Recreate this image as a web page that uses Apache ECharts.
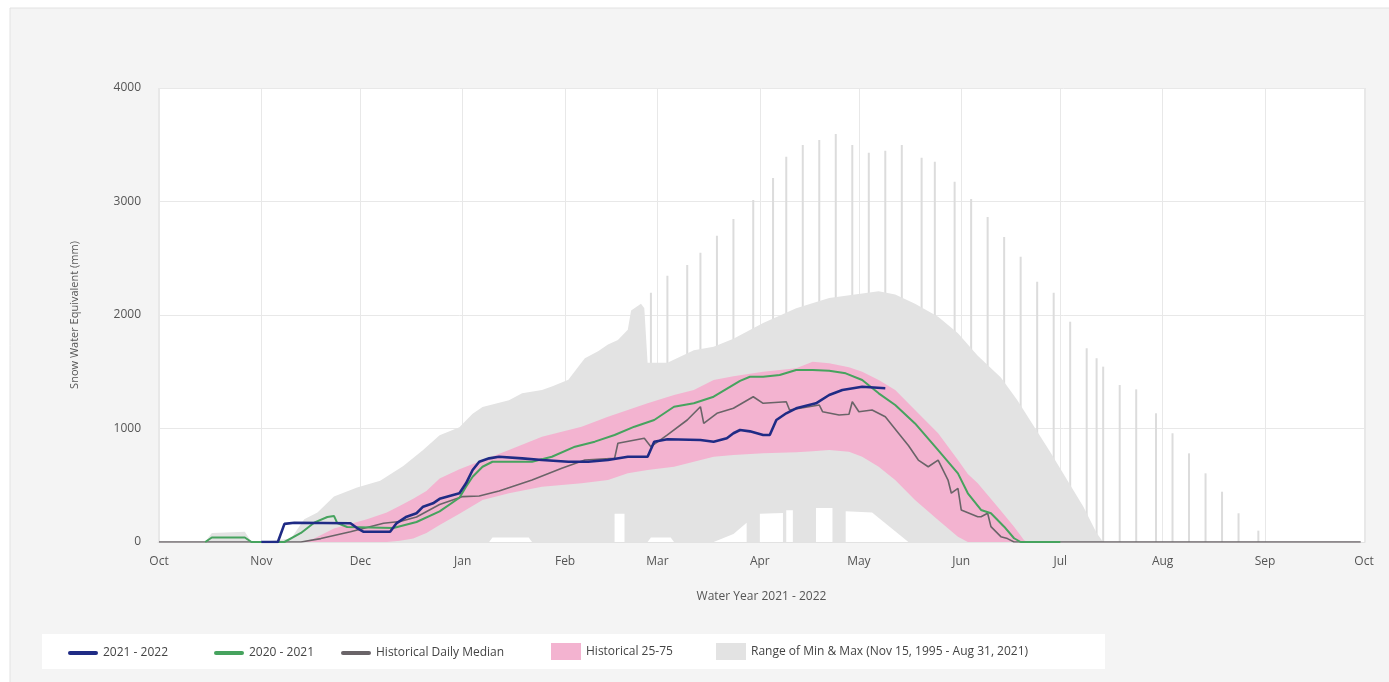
<!DOCTYPE html>
<html>
<head>
<meta charset="utf-8">
<title>Snow Water Equivalent</title>
<script src="https://cdn.jsdelivr.net/npm/echarts@6/dist/echarts.min.js"></script>
<style>
  html, body { margin: 0; padding: 0; background: #fff; }
  #chart { width: 1389px; height: 682px; }
</style>
</head>
<body>
<div id="chart"></div>
<script>
// month names used for the time axis labels
const monthNames = ['Jan', 'Feb', 'Mar', 'Apr', 'May', 'Jun', 'Jul', 'Aug', 'Sep', 'Oct', 'Nov', 'Dec'];
const yTicks = [0, 1000, 2000, 3000, 4000];

const RANGE_NAME = 'Range of Min & Max (Nov 15, 1995 - Aug 31, 2021)';

// upper envelope of historical range (mm)
const maxRange = [
  ['2021-10-01', 0], ['2021-10-15', 0], ['2021-10-17', 80], ['2021-10-27', 90], ['2021-10-29', 0],
  ['2021-11-01', 0], ['2021-11-10', 30], ['2021-11-14', 200], ['2021-11-18', 260], ['2021-11-23', 400],
  ['2021-11-30', 480], ['2021-12-07', 540], ['2021-12-14', 670], ['2021-12-20', 810], ['2021-12-25', 940],
  ['2021-12-31', 1010], ['2022-01-04', 1130], ['2022-01-07', 1190], ['2022-01-15', 1250], ['2022-01-19', 1310],
  ['2022-01-25', 1340], ['2022-01-28', 1370], ['2022-02-02', 1430], ['2022-02-05', 1545], ['2022-02-07', 1620],
  ['2022-02-11', 1680], ['2022-02-14', 1740], ['2022-02-17', 1780], ['2022-02-20', 1870], ['2022-02-21', 2040],
  ['2022-02-24', 2100], ['2022-02-25', 2060], ['2022-02-26', 1580], ['2022-03-04', 1580], ['2022-03-12', 1690],
  ['2022-03-18', 1720], ['2022-03-24', 1790], ['2022-04-02', 1930], ['2022-04-12', 2060], ['2022-04-22', 2150],
  ['2022-05-02', 2190], ['2022-05-07', 2210], ['2022-05-12', 2180], ['2022-05-18', 2100], ['2022-05-25', 1985],
  ['2022-05-31', 1840], ['2022-06-06', 1640], ['2022-06-13', 1450], ['2022-06-18', 1250], ['2022-06-23', 1020],
  ['2022-06-28', 790], ['2022-07-03', 550], ['2022-07-08', 310], ['2022-07-12', 80], ['2022-07-14', 0],
  ['2022-09-30', 0]
];

// lower envelope of historical range (mm)
const minRange = [
  ['2021-10-01', 0], ['2022-01-09', 0], ['2022-01-10', 40], ['2022-01-21', 40], ['2022-01-22', 0],
  ['2022-02-16', 0], ['2022-02-16', 250], ['2022-02-19', 250], ['2022-02-19', 0],
  ['2022-02-26', 0], ['2022-02-27', 40], ['2022-03-05', 40], ['2022-03-06', 0],
  ['2022-03-18', 0], ['2022-03-24', 70], ['2022-03-28', 170], ['2022-03-28', 0],
  ['2022-04-01', 0], ['2022-04-01', 250], ['2022-04-08', 255], ['2022-04-08', 0],
  ['2022-04-09', 0], ['2022-04-09', 280], ['2022-04-11', 280], ['2022-04-11', 0],
  ['2022-04-18', 0], ['2022-04-18', 300], ['2022-04-23', 300], ['2022-04-23', 0],
  ['2022-04-27', 0], ['2022-04-27', 270], ['2022-05-05', 260], ['2022-05-16', 0], ['2022-09-30', 0]
];

// single-day maxima sticking out of the range
const spikeDates = [
  '2022-02-27', '2022-03-04', '2022-03-10', '2022-03-14', '2022-03-19', '2022-03-24', '2022-03-30',
  '2022-04-05', '2022-04-09', '2022-04-14', '2022-04-19', '2022-04-24', '2022-04-29', '2022-05-04',
  '2022-05-09', '2022-05-14', '2022-05-20', '2022-05-24', '2022-05-30', '2022-06-04', '2022-06-09',
  '2022-06-14', '2022-06-19', '2022-06-24', '2022-06-29', '2022-07-04', '2022-07-09', '2022-07-12',
  '2022-07-14', '2022-07-19', '2022-07-24', '2022-07-30', '2022-08-04', '2022-08-09', '2022-08-14',
  '2022-08-19', '2022-08-24', '2022-08-30'
];
const spikeValues = [
  2196, 2346, 2441, 2549, 2699, 2846, 3013,
  3207, 3395, 3498, 3542, 3595, 3498, 3430,
  3447, 3498, 3386, 3351, 3174, 3022, 2863,
  2687, 2514, 2293, 2196, 1941, 1707, 1619,
  1545, 1383, 1345, 1134, 958, 781, 605,
  443, 253, 100
];

// historical 25th / 75th percentile
const pinkDates = [
  '2021-11-13', '2021-11-17', '2021-11-23', '2021-12-03', '2021-12-09', '2021-12-13', '2021-12-17',
  '2021-12-21', '2021-12-25', '2021-12-31', '2022-01-07', '2022-01-15', '2022-01-25', '2022-01-31',
  '2022-02-06', '2022-02-14', '2022-02-20', '2022-02-26', '2022-03-06', '2022-03-12', '2022-03-18',
  '2022-03-24', '2022-04-02', '2022-04-12', '2022-04-17', '2022-04-22', '2022-04-28', '2022-05-02',
  '2022-05-07', '2022-05-12', '2022-05-18', '2022-05-25', '2022-05-31', '2022-06-03', '2022-06-06',
  '2022-06-12', '2022-06-17', '2022-06-20', '2022-06-21'
];
const p25 = [
  0, 0, 0, 0, 0, 10, 30,
  80, 150, 250, 370, 430, 487, 502,
  517, 546, 605, 634, 663, 707, 752,
  767, 781, 790, 800, 810, 796, 752,
  663, 546, 370, 194, 47, 0, 0,
  0, 0, 0, 0
];
const p75 = [
  0, 30, 120, 200, 260, 320, 380,
  450, 560, 640, 720, 810, 928, 972,
  1016, 1104, 1163, 1222, 1295, 1339, 1427,
  1460, 1500, 1530, 1589, 1574, 1540, 1500,
  1427, 1339, 1163, 958, 722, 600, 517,
  311, 135, 18, 0
];

const median = [
  ['2021-10-01', 0], ['2021-11-13', 0], ['2021-11-19', 30], ['2021-11-28', 90], ['2021-12-08', 165],
  ['2021-12-13', 180], ['2021-12-18', 220], ['2021-12-25', 330], ['2022-01-01', 400], ['2022-01-06', 405],
  ['2022-01-12', 450], ['2022-01-22', 546], ['2022-01-31', 649], ['2022-02-07', 722], ['2022-02-16', 737],
  ['2022-02-17', 870], ['2022-02-25', 914], ['2022-02-27', 840], ['2022-03-04', 943], ['2022-03-10', 1075],
  ['2022-03-14', 1192], ['2022-03-15', 1045], ['2022-03-19', 1134], ['2022-03-24', 1178], ['2022-03-30', 1280],
  ['2022-04-02', 1222], ['2022-04-09', 1236], ['2022-04-10', 1163], ['2022-04-19', 1207], ['2022-04-20', 1148],
  ['2022-04-25', 1119], ['2022-04-28', 1125], ['2022-04-29', 1236], ['2022-05-01', 1148], ['2022-05-05', 1163],
  ['2022-05-09', 1104], ['2022-05-13', 958], ['2022-05-16', 850], ['2022-05-19', 722], ['2022-05-22', 663],
  ['2022-05-25', 722], ['2022-05-28', 546], ['2022-05-29', 430], ['2022-05-31', 473], ['2022-06-01', 282],
  ['2022-06-06', 223], ['2022-06-07', 223], ['2022-06-09', 253], ['2022-06-10', 135], ['2022-06-13', 47],
  ['2022-06-15', 30], ['2022-06-17', 0], ['2022-09-30', 0]
];

const season2021 = [
  ['2021-10-15', 0], ['2021-10-17', 40], ['2021-10-27', 40], ['2021-10-29', 0], ['2021-11-08', 0],
  ['2021-11-13', 80], ['2021-11-17', 170], ['2021-11-21', 220], ['2021-11-23', 230], ['2021-11-24', 167],
  ['2021-11-27', 132], ['2021-12-11', 123], ['2021-12-18', 176], ['2021-12-25', 270], ['2021-12-31', 390],
  ['2022-01-02', 487], ['2022-01-04', 575], ['2022-01-07', 663], ['2022-01-10', 707], ['2022-01-22', 707],
  ['2022-01-28', 751], ['2022-02-04', 840], ['2022-02-10', 884], ['2022-02-16', 943], ['2022-02-22', 1016],
  ['2022-02-28', 1075], ['2022-03-06', 1192], ['2022-03-12', 1222], ['2022-03-18', 1280], ['2022-03-26', 1420],
  ['2022-03-29', 1456], ['2022-04-02', 1456], ['2022-04-07', 1471], ['2022-04-12', 1515], ['2022-04-17', 1515],
  ['2022-04-22', 1509], ['2022-04-27', 1486], ['2022-05-02', 1427], ['2022-05-07', 1310], ['2022-05-12', 1207],
  ['2022-05-18', 1045], ['2022-05-25', 810], ['2022-05-31', 605], ['2022-06-03', 429], ['2022-06-07', 282],
  ['2022-06-10', 253], ['2022-06-14', 135], ['2022-06-17', 33], ['2022-06-19', 0], ['2022-07-01', 0]
];

const season2022 = [
  ['2021-11-01', 0], ['2021-11-06', 0], ['2021-11-08', 160], ['2021-11-11', 170], ['2021-11-28', 165],
  ['2021-11-30', 123], ['2021-12-02', 90], ['2021-12-10', 90], ['2021-12-12', 167], ['2021-12-15', 223],
  ['2021-12-18', 253], ['2021-12-20', 311], ['2021-12-23', 341], ['2021-12-25', 380], ['2021-12-31', 429],
  ['2022-01-02', 517], ['2022-01-04', 634], ['2022-01-06', 707], ['2022-01-09', 737], ['2022-01-12', 751],
  ['2022-01-19', 737], ['2022-01-25', 722], ['2022-02-02', 707], ['2022-02-08', 707], ['2022-02-14', 722],
  ['2022-02-20', 751], ['2022-02-26', 751], ['2022-02-28', 884], ['2022-03-04', 905], ['2022-03-14', 899],
  ['2022-03-18', 884], ['2022-03-22', 914], ['2022-03-24', 958], ['2022-03-26', 987], ['2022-03-29', 975],
  ['2022-04-02', 943], ['2022-04-04', 943], ['2022-04-06', 1075], ['2022-04-09', 1134], ['2022-04-12', 1178],
  ['2022-04-18', 1222], ['2022-04-22', 1295], ['2022-04-26', 1339], ['2022-05-02', 1368], ['2022-05-09', 1354]
];

const textColor = '#555';
const fontFamily = '"Open Sans", "Noto Sans", sans-serif';

// line swatches are thin bars kept at their aspect inside a 30x17 box
const LINE_ICON = 'path://M2,0 H28 A2,2 0 0 1 28,4 H2 A2,2 0 0 1 2,0 Z';
const legendItems = [
  { name: '2021 - 2022', left: 63, top: 642, icon: LINE_ICON },
  { name: '2020 - 2021', left: 209, top: 642, icon: LINE_ICON },
  { name: 'Historical Daily Median', left: 336, top: 642, icon: LINE_ICON },
  { name: 'Historical 25-75', left: 546, top: 638, icon: 'rect' },
  { name: RANGE_NAME, left: 711, top: 638, icon: 'rect' }
];

const chart = echarts.init(document.getElementById('chart'), null, { renderer: 'canvas' });

chart.setOption({
  animation: false,
  textStyle: { fontFamily: fontFamily },
  graphic: [
    {
      type: 'rect', z: -10, silent: true,
      shape: { x: 10, y: 8, width: 1400, height: 700 },
      style: { fill: '#f4f4f4', stroke: '#e2e2e2', lineWidth: 1 }
    },
    {
      type: 'rect', z: -5, silent: true,
      shape: { x: 42, y: 634, width: 1063, height: 35 },
      style: { fill: '#ffffff' }
    }
  ],
  legend: legendItems.map(it => ({
    left: it.left,
    top: it.top,
    selectedMode: false,
    itemWidth: 30,
    itemHeight: 17,
    symbolKeepAspect: true,
    data: [{ name: it.name, icon: it.icon }],
    textStyle: { color: '#444', fontSize: 12, fontFamily: fontFamily }
  })),
  grid: {
    left: 158,
    right: 24,
    top: 88,
    bottom: 140,
    show: true,
    backgroundColor: '#ffffff',
    borderWidth: 0
  },
  xAxis: {
    type: 'time',
    min: '2021-10-01',
    max: '2022-10-01',
    splitNumber: 12,
    minInterval: 28 * 24 * 3600 * 1000,
    maxInterval: 31 * 24 * 3600 * 1000,
    name: 'Water Year 2021 - 2022',
    nameLocation: 'middle',
    nameGap: 49,
    nameTextStyle: { color: textColor, fontSize: 12 },
    axisLine: { show: true, lineStyle: { color: '#e2e2e2' } },
    axisTick: { show: false },
    axisLabel: {
      color: textColor,
      fontSize: 12,
      margin: 14,
      formatter: function (value) {
        return monthNames[new Date(value).getMonth()];
      }
    },
    splitLine: { show: true, lineStyle: { color: '#e8e8e8', width: 1 } }
  },
  yAxis: {
    type: 'value',
    min: yTicks[0],
    max: yTicks[yTicks.length - 1],
    interval: 1000,
    name: 'Snow Water Equivalent (mm)',
    nameLocation: 'middle',
    nameGap: 78,
    nameTextStyle: { color: textColor, fontSize: 11 },
    axisLine: { show: false },
    axisTick: { show: false },
    axisLabel: {
      color: textColor,
      fontSize: 12,
      margin: 17,
      formatter: function (v) { return String(v); }
    },
    splitLine: { show: true, lineStyle: { color: '#e8e8e8', width: 1 } }
  },
  series: [
    {
      name: 'maxSpikes',
      type: 'bar',
      barWidth: 2,
      silent: true,
      z: 1,
      itemStyle: { color: '#dcdcdc' },
      data: spikeDates.map((d, i) => [d, spikeValues[i]])
    },
    {
      name: RANGE_NAME,
      type: 'line',
      symbol: 'none',
      z: 2,
      lineStyle: { width: 0, opacity: 0 },
      itemStyle: { color: '#e3e3e3' },
      areaStyle: { color: '#e3e3e3', opacity: 1 },
      data: maxRange
    },
    {
      name: 'minFill',
      type: 'line',
      symbol: 'none',
      z: 3,
      lineStyle: { width: 0, opacity: 0 },
      areaStyle: { color: '#ffffff', opacity: 1 },
      data: minRange
    },
    {
      name: 'p25',
      type: 'line',
      stack: 'iqr',
      symbol: 'none',
      z: 4,
      lineStyle: { width: 0, opacity: 0 },
      data: pinkDates.map((d, i) => [d, p25[i]])
    },
    {
      name: 'Historical 25-75',
      type: 'line',
      stack: 'iqr',
      symbol: 'none',
      z: 4,
      lineStyle: { width: 0, opacity: 0 },
      itemStyle: { color: '#f3b3d0' },
      areaStyle: { color: '#f3b3d0', opacity: 1 },
      data: pinkDates.map((d, i) => [d, p75[i] - p25[i]])
    },
    {
      name: 'Historical Daily Median',
      type: 'line',
      symbol: 'none',
      z: 5,
      itemStyle: { color: '#6a6468' },
      lineStyle: { color: '#6a6468', width: 1.6 },
      data: median
    },
    {
      name: '2020 - 2021',
      type: 'line',
      symbol: 'none',
      z: 6,
      itemStyle: { color: '#46a35e' },
      lineStyle: { color: '#46a35e', width: 2 },
      data: season2021
    },
    {
      name: '2021 - 2022',
      type: 'line',
      symbol: 'none',
      z: 7,
      itemStyle: { color: '#1f2b85' },
      lineStyle: { color: '#1f2b85', width: 2.6 },
      data: season2022
    }
  ]
});
</script>
</body>
</html>
